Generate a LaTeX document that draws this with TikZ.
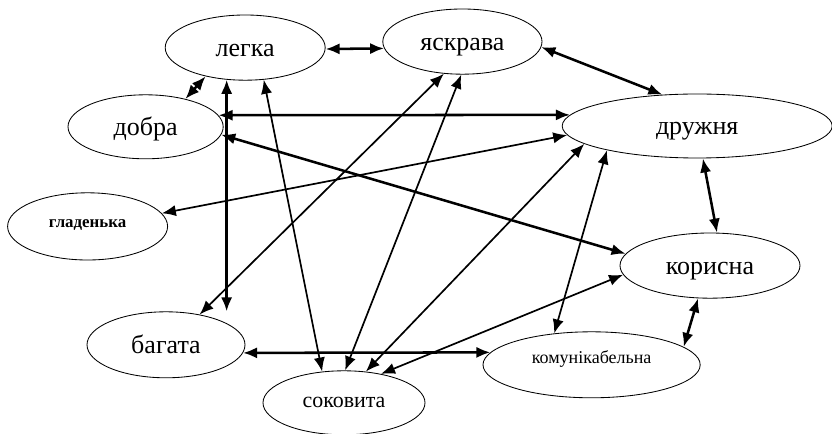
\documentclass[tikz,border=0pt]{standalone}
\usepackage{fontspec}
\setmainfont{Liberation Serif}
\usetikzlibrary{shapes.geometric,arrows.meta}

\begin{document}
\begin{tikzpicture}[
	word/.style={draw=black, line width=0.6pt, ellipse, inner sep=0pt, text height=12pt, text depth=0pt, font=\fontsize{18.5}{20}\selectfont},
	heavy/.style={<->, >={Latex[length=10pt,width=8pt]}, line width=1.8pt},
	light/.style={<->, >={Latex[length=10pt,width=8pt]}, line width=1.2pt}]
	\useasboundingbox (0,0) rectangle (20.80,10.85);
	\node[word, minimum width=4.00cm, minimum height=1.63cm] (legka) at (6.13,9.66) {легка};
	\node[word, minimum width=3.98cm, minimum height=1.63cm] (yaskrava) at (11.56,9.81) {яскрава};
	\node[word, minimum width=3.88cm, minimum height=1.60cm] (dobra) at (3.64,7.68) {добра};
	\node[word, minimum width=6.75cm, minimum height=1.60cm] (druzhnia) at (17.43,7.70) {дружня};
	\node[word, minimum width=4.00cm, minimum height=1.68cm, text height=1.5pt, text depth=0.5pt, font=\fontsize{12}{14}\selectfont\bfseries] (gladenka) at (2.19,5.19) {гладенька};
	\node[word, minimum width=4.50cm, minimum height=1.63cm] (korysna) at (17.75,4.21) {корисна};
	\node[word, minimum width=3.95cm, minimum height=1.65cm] (bahata) at (4.15,2.23) {багата};
	\node[word, minimum width=5.43cm, minimum height=1.65cm, text height=0pt, text depth=1.2pt, font=\fontsize{12.8}{14}\selectfont] (komun) at (14.79,1.73) {комунікабельна};
	\node[word, minimum width=4.05cm, minimum height=1.60cm, text height=7.2pt, font=\fontsize{15.6}{17}\selectfont] (sokovyta) at (8.60,0.78) {соковита};
	\draw[heavy] (legka.359) -- (yaskrava.185);
	\draw[heavy] (yaskrava.356) -- (druzhnia.138);
	\draw[heavy] (dobra.35) -- (legka.216);
	\draw[heavy] (dobra.9) -- (druzhnia.175);
	\draw[heavy] (dobra.354) -- (korysna.172);
	\draw[light] (druzhnia.184) -- (gladenka.10);
	\draw[heavy] (legka.240) -- (legka.240 |- bahata.north);
	\draw[light] (yaskrava.240) -- (bahata.42);
	\draw[light] (legka.300) -- (sokovyta.125);
	\draw[light] (yaskrava.268) -- (sokovyta.88);
	\draw[light] (druzhnia.189) -- (sokovyta.55);
	\draw[light] (druzhnia.195) -- (komun.140);
	\draw[heavy] (druzhnia.280) -- (korysna.78);
	\draw[heavy] (korysna.250) -- (komun.11);
	\draw[heavy] (bahata.354) -- (komun.173);
	\draw[light] (korysna.186) -- (sokovyta.38);
\end{tikzpicture}
\end{document}
